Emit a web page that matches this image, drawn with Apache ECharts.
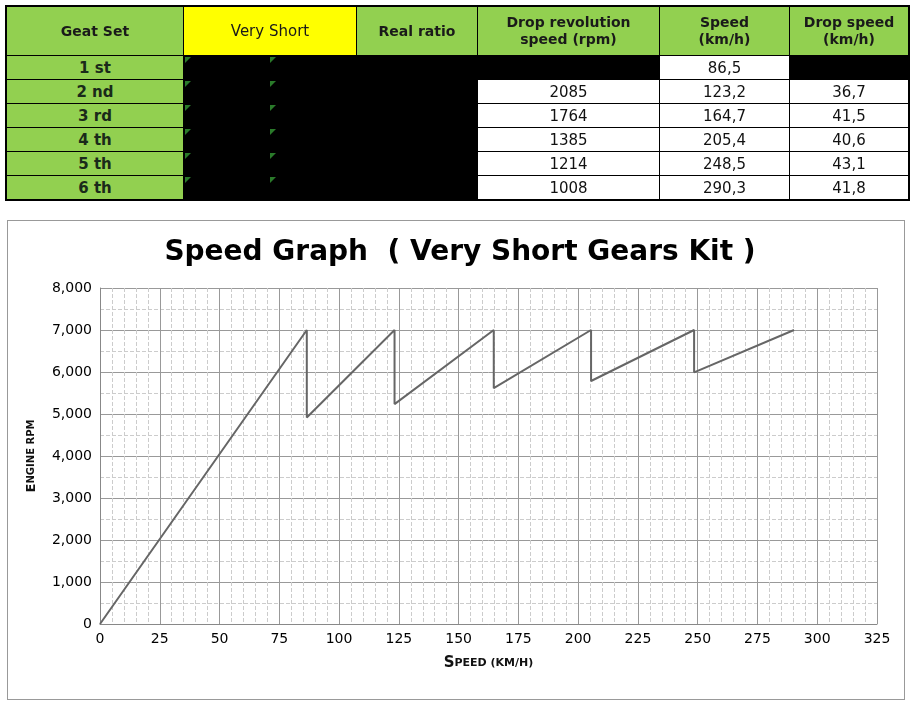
<!DOCTYPE html>
<html><head><meta charset="utf-8">
<script src="https://cdn.jsdelivr.net/npm/echarts@6/dist/echarts.min.js"></script>
<style>
body{margin:0;background:#fff;font-family:Verdana,"DejaVu Sans",sans-serif;}
#tbl{position:absolute;left:5px;top:5px;border-collapse:collapse;border:2px solid #000;}
#tbl td{border:1px solid #000;padding:0;text-align:center;font-size:15px;position:relative;}
#tbl tr.h td{height:48px;background:#92d050;font-weight:bold;font-size:14px;color:#1a1a1a;line-height:17px;}
#tbl tr.r td{height:23px;}
.g{background:#92d050;font-weight:bold;color:#1a2a1a;}
.k{background:#000;}
.w{background:#fff;color:#111;}
.tri{position:absolute;top:1px;width:0;height:0;border-top:6px solid #2a7a2a;border-right:6px solid transparent;}
#box{position:absolute;left:7px;top:220px;width:896px;height:478px;border:1px solid #999;}
#c{position:absolute;left:0;top:0;width:911px;height:701px;}
</style></head><body>
<div id="box"></div>
<div id="c"></div>
<table id="tbl"></table>
<script>
var headers=["Geat Set","Very Short","Real ratio","Drop revolution<br>speed (rpm)","Speed<br>(km/h)","Drop speed<br>(km/h)"];
var gears=["1 st","2 nd","3 rd","4 th","5 th","6 th"];
var dropRev=["","2085","1764","1385","1214","1008"];
var speedTxt=["86,5","123,2","164,7","205,4","248,5","290,3"];
var dropSpeed=["","36,7","41,5","40,6","43,1","41,8"];
var speeds=[86.5,123.2,164.7,205.4,248.5,290.3];
var dropRpm=[4915,5236,5615,5786,5992];
var dropTxt=["4.915","5.236","5.615","5.786","5.992"];
var maxRpm=7000;
var colW=[177,173,121,182,130,119];

var t=document.getElementById('tbl');
var h='<tr class="h">';
headers.forEach(function(x,i){h+='<td style="width:'+(colW[i]-1)+'px;'+(i==1?'background:#ffff00;font-weight:normal;font-size:15px;':'')+'">'+x+'</td>';});
h+='</tr>';
gears.forEach(function(g,i){
 h+='<tr class="r"><td class="g">'+g+'</td><td class="k"><span class="tri" style="left:1px"></span><span class="tri" style="left:86px"></span></td><td class="k"></td>';
 h+= i==0?'<td class="k"></td>':'<td class="w">'+dropRev[i]+'</td>';
 h+='<td class="w">'+speedTxt[i]+'</td>';
 h+= i==0?'<td class="k"></td>':'<td class="w">'+dropSpeed[i]+'</td>';
 h+='</tr>';
});
t.innerHTML=h;

var pts=[[0,0]];
speeds.forEach(function(s,i){
 pts.push({value:[s,maxRpm],label:{show:true,position:'top',distance:10,formatter:speedTxt[i],color:'#000',fontWeight:'bold',fontSize:15}});
 if(i<dropRpm.length) pts.push({value:[s,dropRpm[i]],label:{show:true,position:'bottom',distance:12,formatter:dropTxt[i],color:'#a01818',fontWeight:'bold',fontSize:15}});
});

var ch=echarts.init(document.getElementById('c'));
var ff='Verdana,"DejaVu Sans",sans-serif';
ch.setOption({
 animation:false,
 textStyle:{fontFamily:ff},
 title:{text:'Speed Graph  ( Very Short Gears Kit )',left:455,textAlign:'center',top:234,textStyle:{fontSize:28,fontWeight:'bold',color:'#000',fontFamily:ff}},
 grid:{left:100,right:34,top:288,bottom:77},
 xAxis:{type:'value',min:0,max:325,interval:25,
  name:'{a|S}{b|PEED (KM/H)}',nameLocation:'middle',nameGap:32,
  nameTextStyle:{rich:{a:{fontSize:15,fontWeight:'bold',color:'#111',fontFamily:ff},b:{fontSize:11,fontWeight:'bold',color:'#111',fontFamily:ff}}},
  axisLine:{lineStyle:{color:'#888'}},axisTick:{show:false},
  axisLabel:{color:'#000',fontSize:14},
  splitLine:{show:true,lineStyle:{color:'#999',width:1}},
  minorTick:{show:false,splitNumber:5},minorSplitLine:{show:true,lineStyle:{color:'#ccc',type:'dashed'}}},
 yAxis:{type:'value',min:0,max:8000,interval:1000,
  name:'{a|E}{b|NGINE RPM}',nameLocation:'middle',nameGap:62,
  nameTextStyle:{rich:{a:{fontSize:13,fontWeight:'bold',color:'#111',fontFamily:ff},b:{fontSize:10,fontWeight:'bold',color:'#111',fontFamily:ff}}},
  axisLine:{show:true,lineStyle:{color:'#888'}},axisTick:{show:false},
  axisLabel:{color:'#000',fontSize:14},
  splitLine:{show:true,lineStyle:{color:'#999',width:1}},
  minorTick:{show:false,splitNumber:2},minorSplitLine:{show:true,lineStyle:{color:'#ccc',type:'dashed'}}},
 series:[{type:'line',data:pts,symbol:'none',lineStyle:{color:'#666',width:2}}]
});
</script></body></html>
